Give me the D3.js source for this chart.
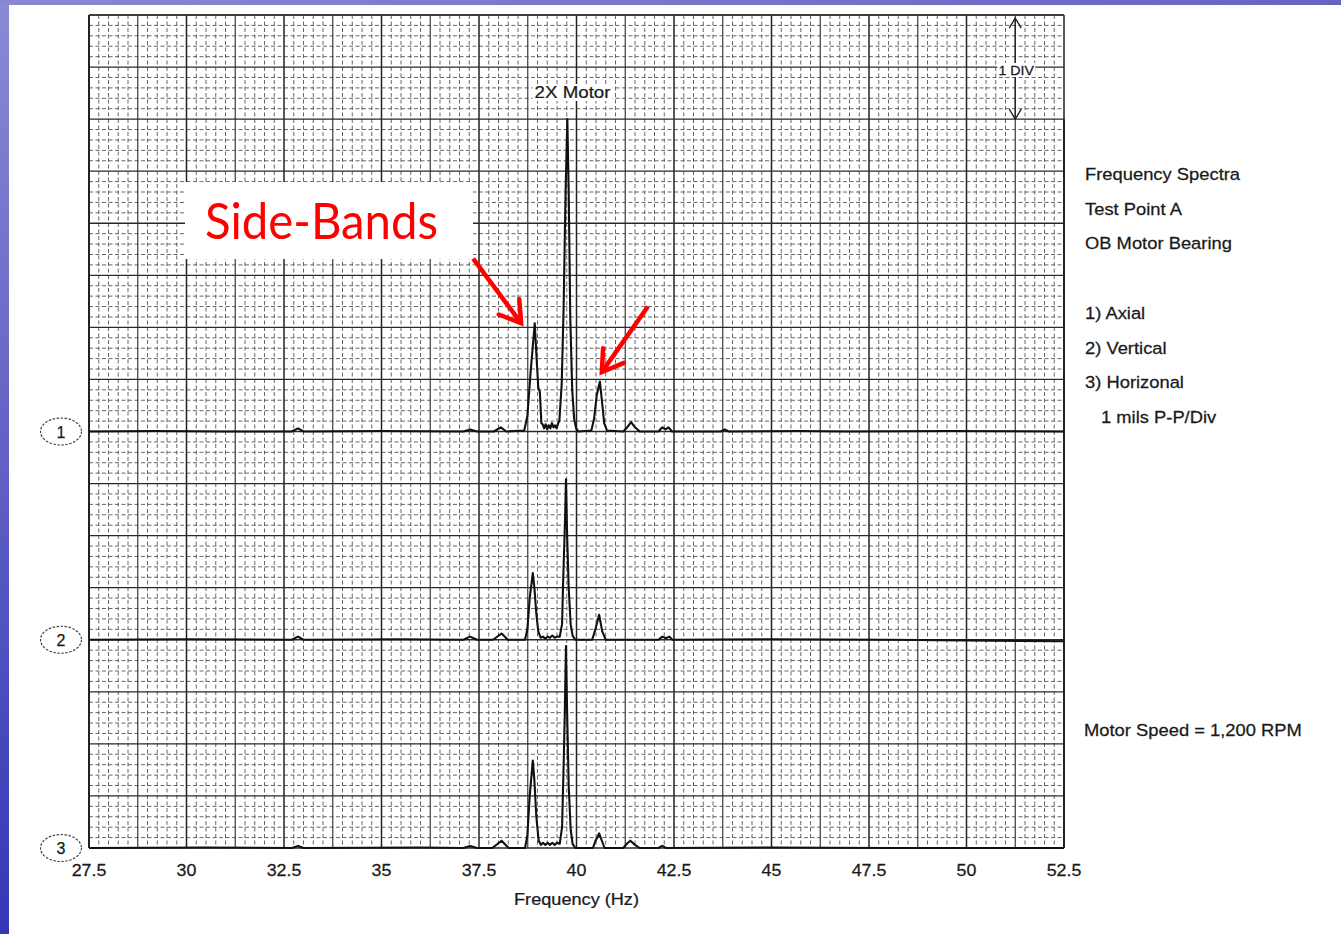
<!DOCTYPE html>
<html><head><meta charset="utf-8">
<script src="https://cdn.jsdelivr.net/npm/d3@7"></script>
<style>html,body{margin:0;padding:0;overflow:hidden;background:#fff}</style>
</head><body><svg id="c" width="1341" height="934"></svg>
<script>
// ---------- data (frequency Hz, amplitude mils P-P; 1 mil = 1 DIV) ----------
const freqTicks = [27.5, 30, 32.5, 35, 37.5, 40, 42.5, 45, 47.5, 50, 52.5];
const traceLabels = ["1", "2", "3"];
const traceOffsets = [4, 2, 0]; // baseline of each trace, in DIV
const axial = [
  [27.5,0],[29.2,0.005],[31.0,0],[32.7,0],[32.86,0.03],[33.0,0],[35.0,0.005],[37.1,0],[37.27,0.02],[37.45,0],
  [37.88,0],[38.06,0.04],[38.2,0],[38.66,0.01],[38.74,0.15],[38.83,0.6],[38.93,1.04],[38.97,0.75],[39.02,0.42],
  [39.06,0.38],[39.1,0.08],[39.13,0.07],[39.17,0.03],[39.21,0.07],[39.25,0.02],[39.29,0.06],[39.33,0.03],
  [39.37,0.08],[39.41,0.04],[39.45,0.06],[39.49,0.03],[39.53,0.08],[39.56,0.1],[39.62,0.45],[39.67,1.2],
  [39.72,2.3],[39.765,3.0],[39.8,2.3],[39.84,1.1],[39.89,0.4],[39.94,0.12],[39.99,0.03],[40.05,0],[40.38,0.01],
  [40.45,0.12],[40.52,0.35],[40.6,0.48],[40.65,0.3],[40.71,0.08],[40.78,0.01],[41.2,0],[41.3,0.04],[41.4,0.09],
  [41.5,0.04],[41.62,0],[42.1,0],[42.2,0.04],[42.28,0.02],[42.36,0.04],[42.45,0],[43.7,0],[43.8,0.02],[43.9,0],
  [45.7,0.005],[47.0,0],[49.5,0.005],[52.5,0]
];
const vertical = [
  [27.5,0],[30.0,0.005],[32.7,0],[32.86,0.03],[33.0,0],[35.5,0.005],[37.1,0],[37.27,0.03],[37.45,0],[37.86,0],
  [38.08,0.06],[38.24,0],[38.68,0],[38.74,0.1],[38.8,0.4],[38.88,0.64],[38.92,0.5],[38.97,0.25],[39.02,0.08],
  [39.08,0.02],[39.14,0.03],[39.2,0.01],[39.26,0.03],[39.32,0.02],[39.38,0.04],[39.44,0.02],[39.5,0.03],
  [39.57,0.03],[39.63,0.15],[39.66,0.6],[39.69,0.95],[39.71,1.2],[39.73,1.54],[39.76,1.0],[39.8,0.5],
  [39.85,0.15],[39.9,0.04],[39.97,0],[40.4,0],[40.47,0.08],[40.58,0.24],[40.66,0.08],[40.75,0],[42.1,0],
  [42.2,0.03],[42.29,0.015],[42.38,0.03],[42.46,0],[45.0,0.005],[48.0,0],[52.5,-0.015]
];
const horizontal = [
  [27.5,0],[30.5,0.005],[32.7,0],[32.86,0.02],[33.0,0],[36.0,0.005],[37.1,0],[37.27,0.02],[37.45,0],[37.84,0],
  [38.08,0.07],[38.26,0],[38.68,0],[38.74,0.12],[38.8,0.5],[38.88,0.84],[38.92,0.65],[38.97,0.3],[39.03,0.07],
  [39.09,0.03],[39.14,0.05],[39.2,0.03],[39.26,0.05],[39.32,0.03],[39.38,0.05],[39.44,0.03],[39.5,0.05],
  [39.57,0.04],[39.63,0.2],[39.67,0.8],[39.7,1.3],[39.73,1.94],[39.76,1.3],[39.8,0.6],[39.85,0.18],[39.9,0.04],
  [39.97,0],[40.42,0],[40.49,0.07],[40.58,0.14],[40.66,0.06],[40.72,0],[41.2,0],[41.29,0.04],[41.38,0.07],
  [41.5,0.03],[41.62,0],[42.1,0],[42.2,0.02],[42.3,0],[45.0,0.005],[48.0,0],[52.5,0]
];
const traces = [axial, vertical, horizontal];
const infoLines = ["Frequency Spectra", "Test Point A", "OB Motor Bearing"];
const legendLines = ["1) Axial", "2) Vertical", "3) Horizonal"];
const unitLine = "1 mils P-P/Div";
const speedLine = "Motor Speed = 1,200 RPM";
const peakLabel = "2X Motor";
const peakLabelFreq = 39.77;
const annotationText = "Side-Bands";
const xTitle = "Frequency (Hz)";

// ---------- drawing ----------
const W = 1341, H = 934;
const svg = d3.select("#c");
const defs = svg.append("defs");
const bgGrad = defs.append("linearGradient").attr("id","bg").attr("x1",0).attr("y1",0).attr("x2",0).attr("y2",1);
bgGrad.append("stop").attr("offset","0%").attr("stop-color","#8a8ad4");
bgGrad.append("stop").attr("offset","100%").attr("stop-color","#3636b6");
const topGrad = defs.append("linearGradient").attr("id","tb").attr("x1",0).attr("y1",0).attr("x2",1).attr("y2",0);
topGrad.append("stop").attr("offset","0%").attr("stop-color","#8888d2");
topGrad.append("stop").attr("offset","100%").attr("stop-color","#6464c4");
svg.append("rect").attr("width",W).attr("height",H).attr("fill","url(#bg)");
svg.append("rect").attr("width",W).attr("height",5).attr("fill","url(#tb)");
svg.append("rect").attr("x",9).attr("y",5).attr("width",W-9).attr("height",H-5).attr("fill","#fff");

const x = d3.scaleLinear().domain([27.5, 52.5]).range([89, 1064]);
const y = d3.scaleLinear().domain([0, 8]).range([848, 15]);

const grid = svg.append("g");
const vMinor = d3.range(0, 101).map(i => 27.5 + i * 0.25);
const hMinor = d3.range(0, 81).map(i => i * 0.1);
grid.selectAll(".vm").data(vMinor.filter((d,i) => i % 5 !== 0)).join("line")
  .attr("x1", d => x(d)).attr("x2", d => x(d)).attr("y1", y(8)).attr("y2", y(0))
  .attr("stroke", "#555").attr("stroke-width", 0.9).attr("stroke-dasharray", "4,2.5");
grid.selectAll(".hm").data(hMinor.filter((d,i) => i % 5 !== 0)).join("line")
  .attr("y1", d => y(d)).attr("y2", d => y(d)).attr("x1", x(27.5)).attr("x2", x(52.5))
  .attr("stroke", "#555").attr("stroke-width", 0.9).attr("stroke-dasharray", "4,2.5");
grid.selectAll(".vM").data(vMinor.filter((d,i) => i % 5 === 0)).join("line")
  .attr("x1", d => x(d)).attr("x2", d => x(d)).attr("y1", y(8)).attr("y2", y(0))
  .attr("stroke", (d,i) => i % 2 === 0 ? "#222" : "#3a3a3a").attr("stroke-width", (d,i) => i % 2 === 0 ? 1.5 : 1.2);
grid.selectAll(".hM").data(hMinor.filter((d,i) => i % 5 === 0)).join("line")
  .attr("y1", d => y(d)).attr("y2", d => y(d)).attr("x1", x(27.5)).attr("x2", x(52.5))
  .attr("stroke", "#2a2a2a").attr("stroke-width", 1.3);
// frame
grid.append("line").attr("x1", x(27.5)).attr("x2", x(27.5)).attr("y1", y(8)).attr("y2", y(0)).attr("stroke","#222").attr("stroke-width",2);
grid.append("line").attr("x1", x(52.5)).attr("x2", x(52.5)).attr("y1", y(7)).attr("y2", y(0)).attr("stroke","#222").attr("stroke-width",2);
grid.append("line").attr("x1", x(27.5)).attr("x2", x(52.5)).attr("y1", y(8)).attr("y2", y(8)).attr("stroke","#333").attr("stroke-width",1.4);

function stretchedText(g, tx, ty, txt, size, anchor, sx) {
  return g.append("text").attr("transform", `translate(${tx},${ty}) scale(${sx||1.08},1)`)
    .attr("font-family", "'Liberation Sans', Arial, sans-serif").attr("font-size", size)
    .attr("text-anchor", anchor || "start").attr("fill", "#1a1a1a")
    .attr("stroke", "#1a1a1a").attr("stroke-width", 0.25).text(txt);
}
const ann = svg.append("g");
ann.append("rect").attr("x", x(peakLabelFreq) - 35).attr("y", 84).attr("width", 80).attr("height", 17).attr("fill", "#fff");
stretchedText(ann, x(peakLabelFreq) + 5, 98, peakLabel, 17, "middle", 1.1);

// 1 DIV arrow
const divX = x(51.25);
ann.append("line").attr("x1", divX).attr("x2", divX).attr("y1", y(7.97)).attr("y2", y(7)).attr("stroke", "#222").attr("stroke-width", 1.3);
ann.append("path").attr("d", `M${divX-6},${y(7.97)+10} L${divX},${y(7.97)} L${divX+6},${y(7.97)+10}`).attr("fill","none").attr("stroke","#222").attr("stroke-width",1.3);
ann.append("path").attr("d", `M${divX-6},${y(7)-10} L${divX},${y(7)} L${divX+6},${y(7)-10}`).attr("fill","none").attr("stroke","#222").attr("stroke-width",1.3);
ann.append("rect").attr("x", divX - 18).attr("y", 63).attr("width", 38).attr("height", 14).attr("fill", "#fff");
stretchedText(ann, divX + 1, 75, "1 DIV", 13.5, "middle", 1.05);

// traces
const line = d3.line().x(d => x(d[0]));
const tg = svg.append("g");
traces.forEach((t, i) => {
  tg.append("path").datum(t)
    .attr("d", line.y(d => y(d[1] + traceOffsets[i]))(t))
    .attr("fill", "none").attr("stroke", "#111").attr("stroke-width", 2.1).attr("stroke-linejoin", "round");
});

// trace labels (dashed ellipses)
traceLabels.forEach((lab, i) => {
  const cy = y(traceOffsets[i]);
  ann.append("ellipse").attr("cx", 61).attr("cy", cy).attr("rx", 20.5).attr("ry", 13.5)
    .attr("fill", "none").attr("stroke", "#444").attr("stroke-width", 1.2).attr("stroke-dasharray", "2.5,1.5");
  stretchedText(ann, 61, cy + 6, lab, 16, "middle", 1.0);
});

// x tick labels
freqTicks.forEach(f => stretchedText(ann, x(f), 876, String(f), 16.5, "middle", 1.08));
stretchedText(ann, x(40), 905, xTitle, 16.5, "middle", 1.1);

// right-side text
infoLines.forEach((t, i) => stretchedText(ann, 1085, 180 + i * 34.5, t, 17, "start", 1.08));
legendLines.forEach((t, i) => stretchedText(ann, 1085, 319 + i * 34.5, t, 17, "start", 1.08));
stretchedText(ann, 1101, 423, unitLine, 17, "start", 1.08);
stretchedText(ann, 1084, 736, speedLine, 17, "start", 1.08);

// Side-Bands annotation
ann.append("rect").attr("x", 185).attr("y", 182).attr("width", 288).attr("height", 77).attr("fill", "#fff");
ann.append("text").attr("x", 205).attr("y", 239).attr("font-family", "Lato, 'Open Sans', sans-serif")
  .attr("font-size", 50).attr("fill", "#ff0000").attr("textLength", 233).attr("lengthAdjust", "spacingAndGlyphs").text(annotationText);

function redArrow(f0, a0, f1, a1) {
  const x0 = x(f0), y0 = y(a0), x1 = x(f1), y1 = y(a1);
  const ang = Math.atan2(y1 - y0, x1 - x0), L = 24, h = 0.56;
  const p1 = [x1 - L * Math.cos(ang - h), y1 - L * Math.sin(ang - h)];
  const p2 = [x1 - L * Math.cos(ang + h), y1 - L * Math.sin(ang + h)];
  ann.append("line").attr("x1", x0).attr("y1", y0).attr("x2", x1).attr("y2", y1)
    .attr("stroke", "#f00").attr("stroke-width", 4.5);
  ann.append("path").attr("d", `M${p1[0]},${p1[1]} L${x1},${y1} L${p2[0]},${p2[1]}`)
    .attr("fill", "none").attr("stroke", "#f00").attr("stroke-width", 4.5).attr("stroke-linejoin", "miter").attr("stroke-linecap","round");
}
redArrow(37.35, 5.66, 38.58, 5.04);
redArrow(41.83, 5.2, 40.65, 4.57);
</script></body></html>
